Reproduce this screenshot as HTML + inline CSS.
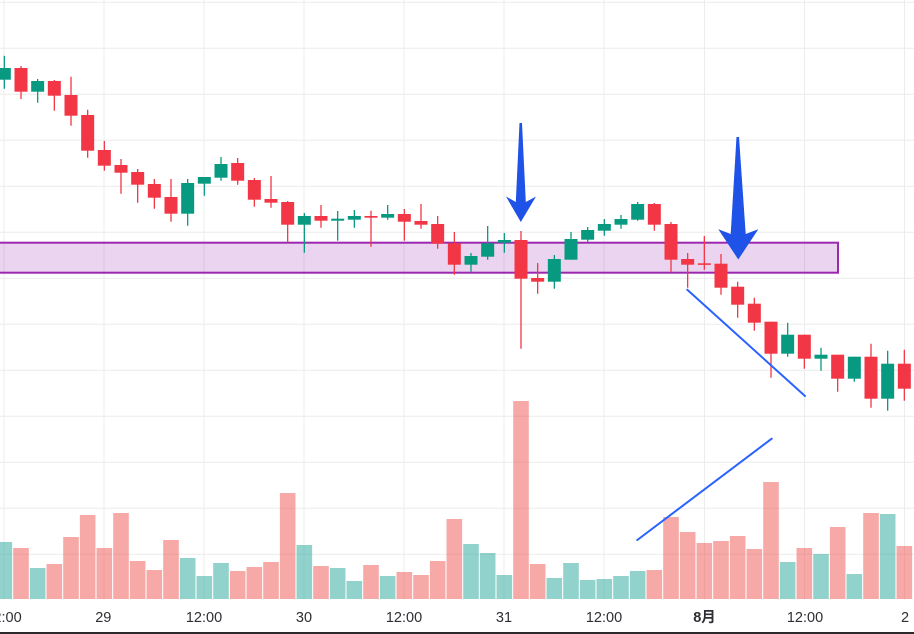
<!DOCTYPE html>
<html><head><meta charset="utf-8"><style>
html,body{margin:0;padding:0;background:#fff;}
svg{display:block;}
text{font-family:"Liberation Sans","Noto Sans CJK SC",sans-serif;font-size:14.5px;fill:#2e2e34;}
</style></head><body>
<svg width="914" height="634" viewBox="0 0 914 634" xmlns="http://www.w3.org/2000/svg">
<rect width="914" height="634" fill="#fff"/>
<g stroke="#ececec" stroke-width="1">
<path d="M0 2.3H914M0 48.3H914M0 94.3H914M0 140.3H914M0 186.3H914M0 232.3H914M0 278.3H914M0 324.3H914M0 370.3H914M0 416.3H914M0 462.3H914M0 508.3H914M0 554.3H914"/>
<path d="M4 0V600M104 0V600M204 0V600M304 0V600M404 0V600M504 0V600M604 0V600M704.5 0V600M804.5 0V600M904.5 0V600"/>
</g>
<g fill="rgba(239,83,80,0.5)">
<rect x="13.2" y="548" width="15.6" height="51"/>
<rect x="46.53" y="564" width="15.6" height="35"/>
<rect x="63.2" y="537" width="15.6" height="62"/>
<rect x="79.87" y="515" width="15.6" height="84"/>
<rect x="96.53" y="548" width="15.6" height="51"/>
<rect x="113.2" y="513" width="15.6" height="86"/>
<rect x="129.87" y="561" width="15.6" height="38"/>
<rect x="146.53" y="570" width="15.6" height="29"/>
<rect x="163.2" y="540" width="15.6" height="59"/>
<rect x="229.87" y="571" width="15.6" height="28"/>
<rect x="246.53" y="567" width="15.6" height="32"/>
<rect x="263.2" y="562" width="15.6" height="37"/>
<rect x="279.87" y="493" width="15.6" height="106"/>
<rect x="313.2" y="566" width="15.6" height="33"/>
<rect x="363.2" y="565" width="15.6" height="34"/>
<rect x="396.53" y="572" width="15.6" height="27"/>
<rect x="413.2" y="575" width="15.6" height="24"/>
<rect x="429.87" y="561" width="15.6" height="38"/>
<rect x="446.53" y="519" width="15.6" height="80"/>
<rect x="513.2" y="401" width="15.6" height="198"/>
<rect x="529.87" y="564" width="15.6" height="35"/>
<rect x="646.53" y="570" width="15.6" height="29"/>
<rect x="663.2" y="517" width="15.6" height="82"/>
<rect x="679.87" y="532" width="15.6" height="67"/>
<rect x="696.53" y="543" width="15.6" height="56"/>
<rect x="713.2" y="541" width="15.6" height="58"/>
<rect x="729.87" y="536" width="15.6" height="63"/>
<rect x="746.53" y="549" width="15.6" height="50"/>
<rect x="763.2" y="482" width="15.6" height="117"/>
<rect x="796.53" y="548" width="15.6" height="51"/>
<rect x="829.87" y="527" width="15.6" height="72"/>
<rect x="863.2" y="513" width="15.6" height="86"/>
<rect x="896.53" y="546" width="15.6" height="53"/>
</g>
<g fill="rgba(38,166,154,0.5)">
<rect x="-3.47" y="542" width="15.6" height="57"/>
<rect x="29.87" y="568" width="15.6" height="31"/>
<rect x="179.87" y="558" width="15.6" height="41"/>
<rect x="196.53" y="576" width="15.6" height="23"/>
<rect x="213.2" y="563" width="15.6" height="36"/>
<rect x="296.53" y="545" width="15.6" height="54"/>
<rect x="329.87" y="568" width="15.6" height="31"/>
<rect x="346.53" y="581" width="15.6" height="18"/>
<rect x="379.87" y="576" width="15.6" height="23"/>
<rect x="463.2" y="544" width="15.6" height="55"/>
<rect x="479.87" y="553" width="15.6" height="46"/>
<rect x="496.53" y="575" width="15.6" height="24"/>
<rect x="546.53" y="578" width="15.6" height="21"/>
<rect x="563.2" y="563" width="15.6" height="36"/>
<rect x="579.87" y="580" width="15.6" height="19"/>
<rect x="596.53" y="579" width="15.6" height="20"/>
<rect x="613.2" y="576" width="15.6" height="23"/>
<rect x="629.87" y="571" width="15.6" height="28"/>
<rect x="779.87" y="562" width="15.6" height="37"/>
<rect x="813.2" y="554" width="15.6" height="45"/>
<rect x="846.53" y="574" width="15.6" height="25"/>
<rect x="879.87" y="514" width="15.6" height="85"/>
</g>
<rect x="-5" y="242.7" width="843" height="30" fill="rgba(156,39,176,0.2)" stroke="#9c27b0" stroke-width="2"/>
<path fill="none" stroke="#f23645" stroke-width="1.3" d="M21 66V99M54.33 80V110.7M71 76.7V125.7M87.67 109.7V157.7M104.33 141V170.7M121 159V193.7M137.67 169V202.7M154.33 179V208.7M171 179V221.7M237.67 158V184.7M254.33 178V206.7M271 176V207.7M287.67 201V242.5M321 205V227.7M371 210.7V246.7M404.33 209V240.7M421 204V228.7M437.67 216V248.7M454.33 232V274.7M521 231V348.7M537.67 263V293.7M654.33 203V230.7M671 222V271.7M687.67 253V287.7M704.33 236V269.7M721 254V294.7M737.67 281.7V317.7M754.33 297.7V330.7M771 321.7V377.7M804.33 334.7V368.7M837.67 354.7V391.7M871 343.7V407.7M904.33 349.7V400.7"/>
<path fill="none" stroke="#089981" stroke-width="1.3" d="M4.33 55.7V88.7M37.67 79V102.7M187.67 179V225.7M204.33 177V195.7M221 157V180.7M304.33 213V252.7M337.67 211V240.7M354.33 210V227.7M387.67 205V219.7M471 253V271.7M487.67 226V259.7M504.33 233V252.7M554.33 255V288.7M571 232V259.7M587.67 227V241.7M604.33 219V235.7M621 215V228.7M637.67 202V220.7M787.67 322.7V356.7M821 347.7V370.7M854.33 356.7V381.7M887.67 350.7V410.7"/>
<g fill="#f23645">
<rect x="14.5" y="68" width="13" height="23.7"/>
<rect x="47.83" y="81" width="13" height="14.7"/>
<rect x="64.5" y="95" width="13" height="20.7"/>
<rect x="81.17" y="115" width="13" height="35.7"/>
<rect x="97.83" y="150" width="13" height="15.7"/>
<rect x="114.5" y="165" width="13" height="7.7"/>
<rect x="131.17" y="172" width="13" height="12.7"/>
<rect x="147.83" y="184" width="13" height="13.7"/>
<rect x="164.5" y="197" width="13" height="16.7"/>
<rect x="231.17" y="163" width="13" height="17.7"/>
<rect x="247.83" y="180" width="13" height="19.7"/>
<rect x="264.5" y="199" width="13" height="3.7"/>
<rect x="281.17" y="202" width="13" height="22.7"/>
<rect x="314.5" y="216" width="13" height="4.7"/>
<rect x="364.5" y="216" width="13" height="1.7"/>
<rect x="397.83" y="214" width="13" height="7.7"/>
<rect x="414.5" y="221" width="13" height="3.7"/>
<rect x="431.17" y="224" width="13" height="19.7"/>
<rect x="447.83" y="243.3" width="13" height="21.4"/>
<rect x="514.5" y="240" width="13" height="38.7"/>
<rect x="531.17" y="278" width="13" height="3.7"/>
<rect x="647.83" y="204" width="13" height="20.7"/>
<rect x="664.5" y="224" width="13" height="35.7"/>
<rect x="681.17" y="259" width="13" height="5.7"/>
<rect x="697.83" y="263.3" width="13" height="1.6"/>
<rect x="714.5" y="263.7" width="13" height="24"/>
<rect x="731.17" y="286.7" width="13" height="18"/>
<rect x="747.83" y="303.7" width="13" height="19"/>
<rect x="764.5" y="321.7" width="13" height="32"/>
<rect x="797.83" y="334.7" width="13" height="24"/>
<rect x="831.17" y="354.7" width="13" height="24"/>
<rect x="864.5" y="356.7" width="13" height="42"/>
<rect x="897.83" y="363.7" width="13" height="25"/>
</g>
<g fill="#089981">
<rect x="-2.17" y="68" width="13" height="11.7"/>
<rect x="31.17" y="81" width="13" height="10.7"/>
<rect x="181.17" y="183" width="13" height="30.7"/>
<rect x="197.83" y="177" width="13" height="6.7"/>
<rect x="214.5" y="164" width="13" height="13.7"/>
<rect x="297.83" y="216" width="13" height="8.7"/>
<rect x="331.17" y="218.7" width="13" height="2"/>
<rect x="347.83" y="216" width="13" height="3.7"/>
<rect x="381.17" y="214" width="13" height="3.7"/>
<rect x="464.5" y="256" width="13" height="8.7"/>
<rect x="481.17" y="243.3" width="13" height="13.4"/>
<rect x="497.83" y="240" width="13" height="2.7"/>
<rect x="547.83" y="259" width="13" height="22.7"/>
<rect x="564.5" y="239" width="13" height="20.7"/>
<rect x="581.17" y="230" width="13" height="9.7"/>
<rect x="597.83" y="224" width="13" height="6.7"/>
<rect x="614.5" y="219" width="13" height="5.7"/>
<rect x="631.17" y="204" width="13" height="15.7"/>
<rect x="781.17" y="334.7" width="13" height="19"/>
<rect x="814.5" y="354.7" width="13" height="4"/>
<rect x="847.83" y="356.7" width="13" height="22"/>
<rect x="881.17" y="363.7" width="13" height="35"/>
</g>
<g stroke="#2962ff" stroke-width="2" stroke-linecap="round">
<line x1="687.3" y1="289.7" x2="805" y2="396"/>
<line x1="637.3" y1="540" x2="771.7" y2="438.7"/>
</g>
<g fill="#1f52e6">
<polygon points="519.5,123 522,123 525.8,202 536,196.5 520.8,222 506,196.5 515.8,202"/>
<polygon points="736.5,137 739,137 745.7,234 758.3,229.3 738.3,259.5 718.3,229.3 730.7,234"/>
</g>
<rect x="0" y="632" width="914" height="2" fill="#2a2a2e"/>
<g text-anchor="middle">
<text x="3.5" y="622">12:00</text>
<text x="103.3" y="622">29</text>
<text x="204" y="622">12:00</text>
<text x="304" y="622">30</text>
<text x="404" y="622">12:00</text>
<text x="504" y="622">31</text>
<text x="604" y="622">12:00</text>
<text x="704.5" y="622" font-weight="bold">8月</text>
<text x="805" y="622">12:00</text>
<text x="905" y="622">2</text>
</g>
</svg>
</body></html>
